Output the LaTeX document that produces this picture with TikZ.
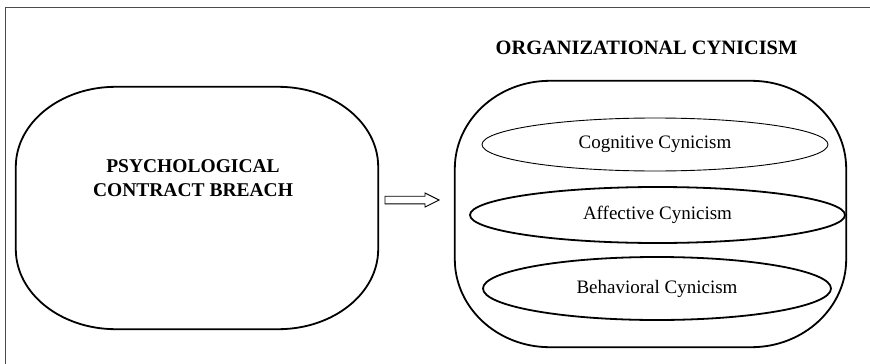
\documentclass[tikz,border=0pt]{standalone}
\usepackage{fontspec}
\setmainfont{Liberation Serif}
\usetikzlibrary{shapes.geometric,calc}
\tikzset{
  thickline/.style={line width=1.8pt, black},
  thinline/.style={line width=0.9pt, black},
  ovalnode/.style={ellipse, inner sep=0pt, font=\fontsize{19}{22}\selectfont},
  framebox/.style={line width=1.3pt, draw=black!70},
  arrowline/.style={line width=0.9pt, black},
}
\newcommand\elbox[3]{%
  \draw[thickline] ([xshift=#2]#1.north west) -- ([xshift=-#2]#1.north east)
    arc[start angle=90, end angle=0, x radius=#2, y radius=#3]
    -- ([yshift=#3]#1.south east)
    arc[start angle=0, end angle=-90, x radius=#2, y radius=#3]
    -- ([xshift=#2]#1.south west)
    arc[start angle=270, end angle=180, x radius=#2, y radius=#3]
    -- ([yshift=-#3]#1.north west)
    arc[start angle=180, end angle=90, x radius=#2, y radius=#3]
    -- cycle;}
\begin{document}
\begin{tikzpicture}[x=1pt, y=1pt]
\useasboundingbox (0,0) rectangle (870,-364);
\draw[framebox] (5.5,-380) -- (5.5,-7.3) -- (890,-7.3);

% left box
\node[minimum width=362pt, minimum height=242pt, inner sep=0pt] (L) at (197,-208) {};
\elbox{L}{100pt}{80pt}
\node[font=\fontsize{19.5}{24}\selectfont\bfseries, align=center] (Ltext) at (193,-178) {PSYCHOLOGICAL\\CONTRACT BREACH};

% right box
\node[minimum width=391pt, minimum height=266pt, inner sep=0pt] (R) at (650.5,-214) {};
\elbox{R}{95pt}{88pt}
\node[font=\fontsize{20.4}{24}\selectfont\bfseries] (title) at (646.5,-48) {ORGANIZATIONAL CYNICISM};

% ellipses
\node[ovalnode, draw, thinline, minimum width=346pt, minimum height=53pt] (cog) at (655,-144.5) {Cognitive Cynicism};
\node[ovalnode, draw, thickline, minimum width=375pt, minimum height=56pt] (aff) at (657.5,-215) {Affective Cynicism};
\node[ovalnode, draw, thickline, minimum width=348pt, minimum height=63pt] (beh) at (657,-288.5) {Behavioral Cynicism};

% arrow
\coordinate (a) at (385,-200);
\coordinate (b) at (439,-200);
\draw[arrowline] ($(a)+(0,3.8)$) -- ($(b)+(-14,3.8)$) -- ($(b)+(-14,7)$) -- (b)
  -- ($(b)+(-14,-7)$) -- ($(b)+(-14,-3.8)$) -- ($(a)+(0,-3.8)$) -- cycle;
\end{tikzpicture}
\end{document}
